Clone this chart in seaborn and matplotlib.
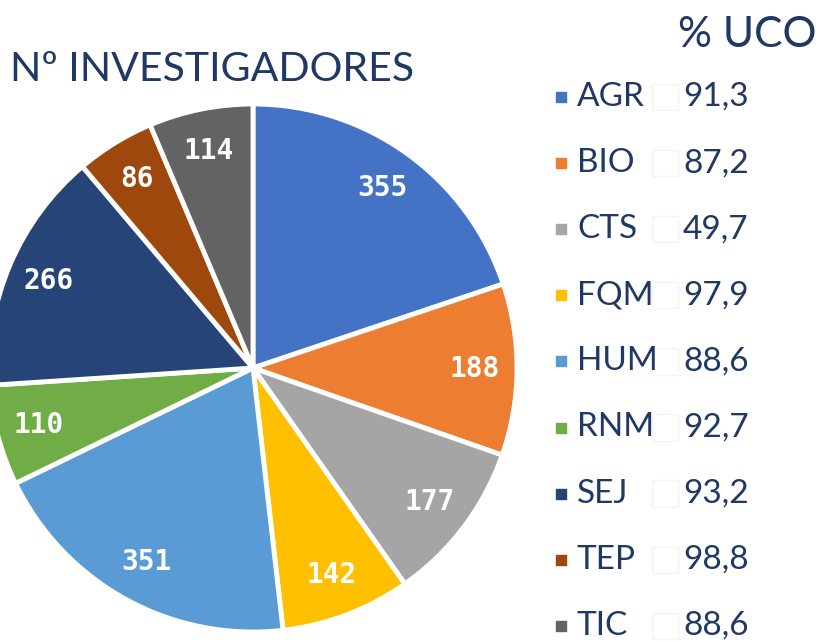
import matplotlib
matplotlib.use("Agg")
import matplotlib.pyplot as plt
import seaborn as sns

# data
areas = ["AGR", "BIO", "CTS", "FQM", "HUM", "RNM", "SEJ", "TEP", "TIC"]
researchers = [355, 188, 177, 142, 351, 110, 266, 86, 114]
pct_uco = ["91,3", "87,2", "49,7", "97,9", "88,6", "92,7", "93,2", "98,8", "88,6"]
area_colors = ["#4472C4", "#ED7D31", "#A5A5A5", "#FFC000", "#5B9BD5",
               "#70AD47", "#264478", "#9E480E", "#636363"]

sns.set_style("white")
plt.rcParams["font.family"] = ["Lato", "DejaVu Sans"]
palette = sns.color_palette(area_colors)
navy = "#1F3864"

W, H = 823, 642
fig = plt.figure(figsize=(W / 100, H / 100), dpi=100)
ax = fig.add_axes([0, 0, 1, 1])

total = sum(researchers)
wedges, _, autotexts = ax.pie(
    researchers,
    colors=palette,
    startangle=90,
    counterclock=False,
    center=(253, H - 368),
    radius=264,
    autopct=lambda p: f"{round(p * total / 100)}",
    pctdistance=0.84,
    wedgeprops=dict(edgecolor="white", linewidth=3.5),
    textprops=dict(color="white", fontsize=20, fontweight="bold",
                   family="DejaVu Sans Mono"),
)

ax.set_xlim(0, W)
ax.set_ylim(0, H)
ax.set_aspect("equal")
ax.axis("off")

# title (cropped on the left like the source)
ax.text(414, H - 81, "Nº INVESTIGADORES", ha="right", va="baseline",
        fontsize=29.5, color=navy)

# legend with % UCO column
ax.text(817, H - 47, "% UCO", ha="right", va="baseline", fontsize=30.5, color=navy)
row0, step = 97, 66.1
for i, (lab, val) in enumerate(zip(areas, pct_uco)):
    y = H - (row0 + i * step)
    ax.scatter([561], [y], marker="s", s=60, color=palette[i], zorder=3)
    ax.scatter([665], [y], marker="s", s=360, facecolor="none",
               edgecolor="#f4f4f4", linewidth=1, zorder=2)
    ax.text(577, y, lab, ha="left", va="center", fontsize=24, color=navy)
    ax.text(683, y, val, ha="left", va="center", fontsize=24, color=navy)

fig.savefig("out.png", dpi=100, facecolor="white")
plt.close(fig)
